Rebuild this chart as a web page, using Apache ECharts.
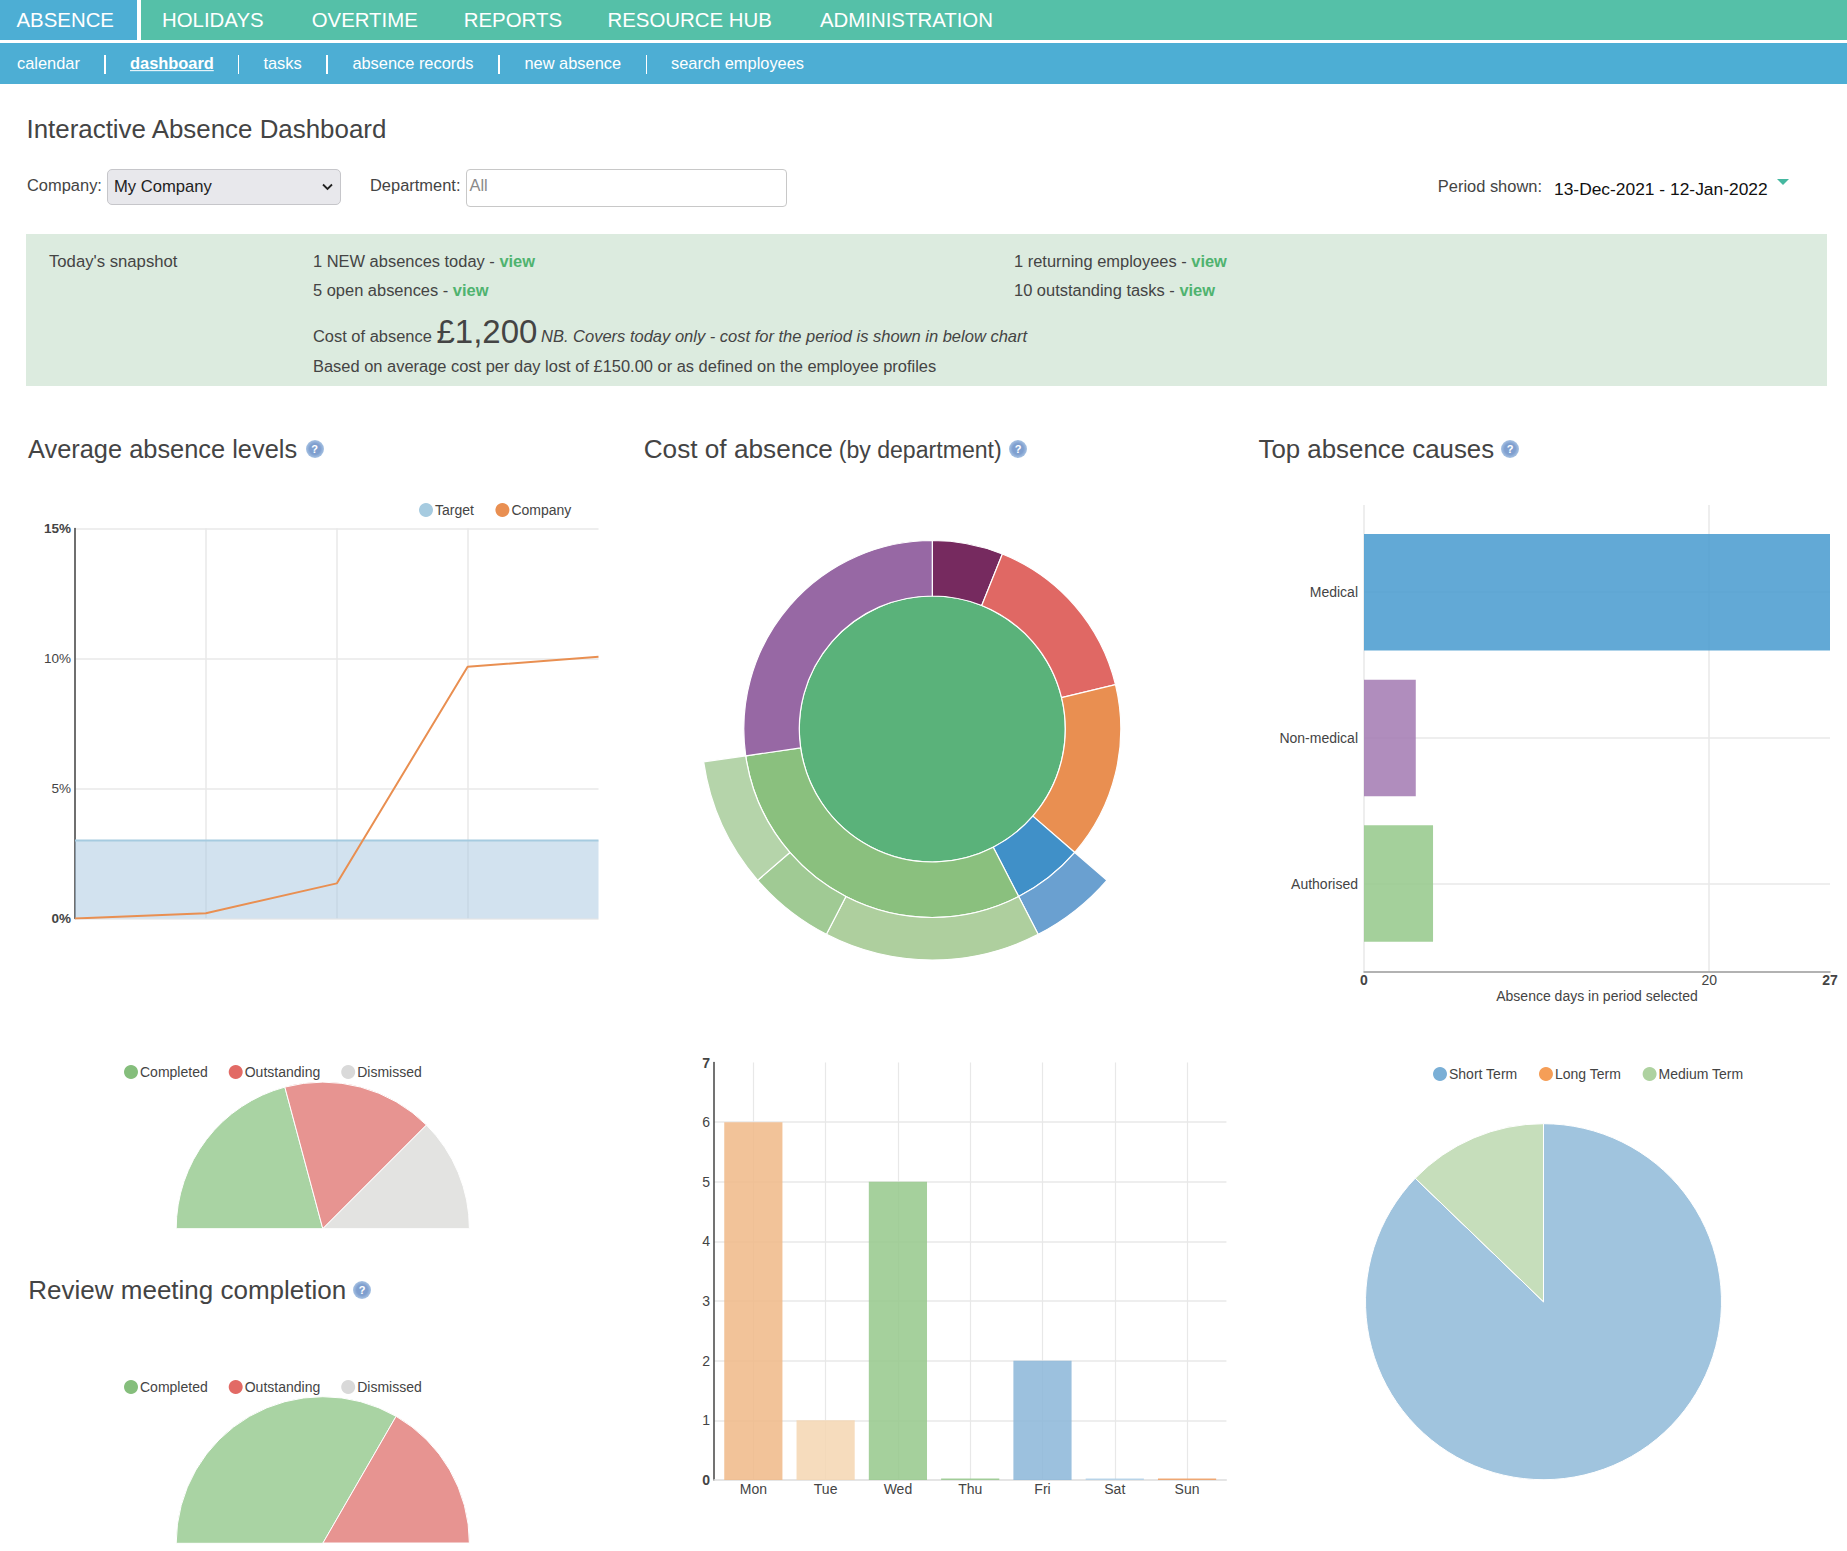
<!DOCTYPE html>
<html><head><meta charset="utf-8">
<script src="https://cdn.jsdelivr.net/npm/echarts@6/dist/echarts.min.js"></script>
<style>
html,body{margin:0;padding:0;background:#fff;width:1847px;height:1551px;overflow:hidden;font-family:"Liberation Sans",Arial,sans-serif;color:#444}
#chart{position:absolute;left:0;top:0;width:1847px;height:1551px}
.b{position:absolute}
.t{position:absolute;white-space:nowrap;transform:translateY(-50%);font-size:16.45px;line-height:1.2}
.nav{color:#fff;font-size:20.4px}
.sub{color:#fff;font-size:16.4px}
.sep{position:absolute;width:1.5px;height:19px;top:55px;background:#fff}
.v{color:#4fb36f;font-weight:bold}
.q{position:absolute;width:18px;height:18px;border-radius:50%;transform:translate(-50%,-50%);background:radial-gradient(circle,#7f9fcf 0%,#7f9fcf 42%,#a3bfe1 68%,#d9e6f5 100%);color:#fff;font:bold 11px/18px "Liberation Sans";text-align:center}
</style></head><body>
<div id="chart"></div>

<div class="b" style="left:0;top:0;width:1847px;height:40px;background:#55c0a8"></div>
<div class="b" style="left:0;top:0;width:137px;height:40px;background:#4daed4"></div>
<div class="b" style="left:137px;top:0;width:4px;height:40px;background:#fff"></div>
<div class="b" style="left:0;top:43px;width:1847px;height:41px;background:#4daed4"></div>
<span class="t nav" style="left:16.5px;top:20px">ABSENCE</span>
<span class="t nav" style="left:162px;top:20px">HOLIDAYS</span>
<span class="t nav" style="left:311.7px;top:20px">OVERTIME</span>
<span class="t nav" style="left:463.8px;top:20px">REPORTS</span>
<span class="t nav" style="left:607.5px;top:20px">RESOURCE HUB</span>
<span class="t nav" style="left:820px;top:20px">ADMINISTRATION</span>
<span class="t sub" style="left:17px;top:64px">calendar</span><i class="sep" style="left:104px"></i>
<span class="t sub" style="left:130px;top:64px;font-weight:bold;text-decoration:underline">dashboard</span><i class="sep" style="left:237.5px"></i>
<span class="t sub" style="left:263.4px;top:64px">tasks</span><i class="sep" style="left:326px"></i>
<span class="t sub" style="left:352.4px;top:64px">absence records</span><i class="sep" style="left:498px"></i>
<span class="t sub" style="left:524.5px;top:64px">new absence</span><i class="sep" style="left:645.5px"></i>
<span class="t sub" style="left:671px;top:64px">search employees</span>

<span class="t" style="left:26.5px;top:130px;font-size:25.9px">Interactive Absence Dashboard</span>
<span class="t" style="left:27px;top:186px">Company:</span>
<div class="b" style="left:107px;top:169px;width:232px;height:34px;background:#e8e8ec;border:1px solid #c6c6ca;border-radius:5px"></div>
<span class="t" style="left:114px;top:187px;color:#222;font-size:16.6px">My Company</span>
<svg class="b" style="left:322px;top:183px" width="11" height="8"><path d="M1 1.5 L5.5 6 L10 1.5" fill="none" stroke="#222" stroke-width="1.8"/></svg>
<span class="t" style="left:370px;top:186px">Department:</span>
<div class="b" style="left:466px;top:169px;width:319px;height:36px;background:#fff;border:1px solid #c8c8c8;border-radius:4px"></div>
<span class="t" style="left:469.5px;top:186px;color:#8a8a8a">All</span>
<span class="t" style="left:1437.8px;top:187px">Period shown:</span>
<span class="t" style="left:1554px;top:189px;color:#111;font-size:17.4px">13-Dec-2021 - 12-Jan-2022</span>
<svg class="b" style="left:1777px;top:179px" width="12" height="7"><path d="M0 0 L12 0 L6 6 Z" fill="#45b8a0"/></svg>

<div class="b" style="left:26px;top:234px;width:1800.5px;height:152px;background:#dcebdf"></div>
<span class="t" style="left:49px;top:262px;font-size:16.7px">Today's snapshot</span>
<span class="t" style="left:313px;top:262px">1 NEW absences today - <span class="v">view</span></span>
<span class="t" style="left:313px;top:290.5px">5 open absences - <span class="v">view</span></span>
<span class="t" style="left:1014px;top:262px">1 returning employees - <span class="v">view</span></span>
<span class="t" style="left:1014px;top:290.5px">10 outstanding tasks - <span class="v">view</span></span>
<span class="t" style="left:313px;top:337px">Cost of absence</span>
<span class="t" style="left:436.5px;top:332px;font-size:33px">£1,200</span>
<span class="t" style="left:541px;top:337px;font-style:italic;font-size:16.5px">NB. Covers today only - cost for the period is shown in below chart</span>
<span class="t" style="left:313px;top:366.5px">Based on average cost per day lost of £150.00 or as defined on the employee profiles</span>

<span class="t" style="left:28px;top:449px;font-size:25.4px">Average absence levels</span><span class="q" style="left:314.7px;top:449px">?</span>
<span class="t" style="left:643.7px;top:450px;font-size:26.2px">Cost of absence</span><span class="t" style="left:838.7px;top:450.5px;font-size:23.1px">(by department)</span><span class="q" style="left:1018px;top:449px">?</span>
<span class="t" style="left:1258.5px;top:449px;font-size:25.85px">Top absence causes</span><span class="q" style="left:1510px;top:449px">?</span>
<span class="t" style="left:28.3px;top:1291px;font-size:26px">Review meeting completion</span><span class="q" style="left:362px;top:1290px">?</span>

<script>
// ---- Average absence levels
const levelPeriods = ['P1', 'P2', 'P3', 'P4', 'P5'];
const targetLevel = [3, 3, 3, 3, 3];
const companyLevel = [0, 0.2, 1.35, 9.68, 10.07];
// ---- Cost of absence (by department)
const deptNames = ['Dept A', 'Dept B', 'Dept C', 'Dept D', 'Dept E', 'Dept F'];
const deptCost = [150, 375, 375, 150, 750, 675];
const deptDDivisions = ['D1'];
const deptDDivisionCost = [150];
const deptEDivisions = ['E1', 'E2', 'E3'];
const deptEDivisionCost = [375, 150, 225];
// ---- Top absence causes
const causeNames = ['Medical', 'Non-medical', 'Authorised'];
const causeDays = [27, 3, 4];
// ---- Trigger / review completion
const statusNames = ['Completed', 'Outstanding', 'Dismissed'];
const triggerCounts = [5, 4, 3];
const reviewCounts = [2, 1, 0];
// ---- Absences by weekday
const weekdays = ['Mon', 'Tue', 'Wed', 'Thu', 'Fri', 'Sat', 'Sun'];
const weekdayCounts = [6, 1, 5, 0, 2, 0, 0];
// ---- Term split
const termNames = ['Short Term', 'Long Term', 'Medium Term'];
const termCounts = [87.2, 0, 12.8];

// colours
const deptColors = ['#762a5f', '#e06864', '#e98f51', '#4090c8', '#8ac07e', '#9768a4'];
const deptDColors = ['#6aa0d0'];
const deptEColors = ['#aecf9e', '#a0ca94', '#b5d4aa'];
const causeColors = ['#469acf', '#a279b2', '#94c88a'];
const statusColors = ['#a9d3a3', '#e79491', '#e3e3e1'];
const statusDots = ['#85be7c', '#e26a65', '#d9d9d9'];
const weekdayColors = ['#f0b887', '#f4d6b1', '#95c88b', '#95c88b', '#8bb6d8', '#b0d0e8', '#ee9c60'];
const termColors = ['#a0c4de', '#f59e57', '#c6debb'];
const termDots = ['#7aafd6', '#f59e57', '#aed2a0'];

const FONT = '"Liberation Sans", Arial, sans-serif';
const TXT = '#444';
const GRID = '#e8e8e8';
const label = (size) => ({fontFamily: FONT, fontSize: size, color: TXT});
const boldRich = (size) => ({b: {fontFamily: FONT, fontSize: size, color: TXT, fontWeight: 'bold'}, n: {fontFamily: FONT, fontSize: size, color: TXT}});
const split = (w) => ({show: true, alignWithLabel: true, lineStyle: {color: GRID, width: w || 1.5}});

const children = (names, vals, cols) => names.map((n, i) => ({name: n, value: vals[i], itemStyle: {color: cols[i]}}));
const deptNodes = deptNames.map((n, i) => {
  const node = {name: n, value: deptCost[i], itemStyle: {color: deptColors[i]}};
  if (i === 3) node.children = children(deptDDivisions, deptDDivisionCost, deptDColors);
  if (i === 4) node.children = children(deptEDivisions, deptEDivisionCost, deptEColors);
  return node;
});

const halfPie = (vals, cy) => ({
  type: 'pie', center: [322.8, cy], radius: [0, 146.6], startAngle: 180, endAngle: 0, clockwise: true,
  label: {show: false}, labelLine: {show: false}, silent: true, animation: false,
  data: statusNames.map((n, i) => ({name: n, value: vals[i], itemStyle: {color: statusColors[i], borderColor: '#fff', borderWidth: 1}}))
});
const legend = (names, cols, left, top, gap) => ({
  left, top, padding: 0, orient: 'horizontal', icon: 'circle', itemWidth: 14, itemHeight: 14, itemGap: gap, selectedMode: false,
  textStyle: Object.assign(label(14), {padding: [0, 0, 0, -3]}), data: names.map((n, i) => ({name: n, itemStyle: {color: cols[i], opacity: 1, borderWidth: 0}}))
});
const hiddenValue = (idx, max) => ({gridIndex: idx, type: 'value', min: 0, max, show: false});

const chart = echarts.init(document.getElementById('chart'), null, {renderer: 'svg'});
chart.setOption({
  animation: false,
  legend: [
    legend(['Target', 'Company'], ['#a6cbe0', '#e98f51'], 419, 503, 21.5),
    legend(statusNames, statusDots, 124, 1065, 21),
    legend(statusNames, statusDots, 124, 1380, 21),
    legend(termNames, termDots, 1433, 1067, 21.5)
  ],
  grid: [
    {left: 75, top: 528.5, width: 523.5, height: 390},
    // causes: axis frame, then the inset band for the bars
    {left: 1364, top: 505, width: 466, height: 466.5},
    {left: 1364, top: 519.4, width: 466, height: 437},
    // weekdays: axis frame, then the inset band for the bars
    {left: 714, top: 1062.5, width: 512.4, height: 417.5},
    {left: 717.2, top: 1062.5, width: 506, height: 417.5}
  ],
  xAxis: [
    {gridIndex: 0, type: 'category', data: levelPeriods, boundaryGap: false, axisLine: {show: false}, axisTick: {show: false}, axisLabel: {show: false}, splitLine: {show: true, showMaxLine: false, lineStyle: {color: GRID, width: 1.5}}},
    {gridIndex: 1, type: 'value', min: 0, max: 27, interval: 20, axisLine: {show: true, lineStyle: {color: '#999', width: 1.5}}, axisTick: {show: false},
      axisLabel: {margin: 1, showMinLabel: true, showMaxLabel: true, formatter: (v) => v === 20 ? `{n|${v}}` : `{b|${v}}`, rich: boldRich(14)},
      splitLine: {show: true, showMaxLine: false, lineStyle: {color: GRID, width: 1.5}},
      name: 'Absence days in period selected', nameLocation: 'middle', nameGap: 17.5, nameTextStyle: label(14)},
    hiddenValue(2, 27),
    {gridIndex: 3, type: 'value', min: 0, max: 1, axisLine: {show: true, lineStyle: {color: '#e2e2e2', width: 1.5}}, axisTick: {show: false}, axisLabel: {show: false}, splitLine: {show: false}},
    {gridIndex: 4, type: 'category', data: weekdays, axisLine: {show: false}, axisTick: {show: false}, axisLabel: Object.assign(label(14), {margin: 1.5, interval: 0}), splitLine: split(1.2)}
  ],
  yAxis: [
    {gridIndex: 0, type: 'value', min: 0, max: 15, interval: 5, axisLine: {show: true, lineStyle: {color: '#444', width: 1.5}}, axisTick: {show: false},
      axisLabel: {margin: 4, formatter: (v) => (v === 0 || v === 15) ? `{b|${v}%}` : `{n|${v}%}`, rich: boldRich(13.5)},
      splitLine: {show: true, lineStyle: {color: GRID, width: 1.5}}},
    hiddenValue(1, 1),
    {gridIndex: 2, type: 'category', inverse: true, data: causeNames, axisLine: {show: false}, axisTick: {show: false}, axisLabel: Object.assign(label(14), {margin: 6}), splitLine: split(1.5)},
    {gridIndex: 3, type: 'value', min: 0, max: 7, interval: 1, axisLine: {show: true, lineStyle: {color: '#444', width: 1.5}}, axisTick: {show: false},
      axisLabel: {margin: 4, formatter: (v) => (v === 0 || v === 7) ? `{b|${v}}` : `{n|${v}}`, rich: boldRich(14)},
      splitLine: {show: true, showMaxLine: false, lineStyle: {color: GRID, width: 1.5}}},
    hiddenValue(4, 7)
  ],
  series: [
    {name: 'Target', type: 'line', xAxisIndex: 0, yAxisIndex: 0, data: targetLevel, symbol: 'none', lineStyle: {color: '#a6cbe0', width: 2}, itemStyle: {color: '#a6cbe0'}, areaStyle: {color: '#a5c6df', opacity: 0.5}},
    {name: 'Company', type: 'line', xAxisIndex: 0, yAxisIndex: 0, data: companyLevel, symbol: 'none', lineStyle: {color: '#e98f51', width: 2}, itemStyle: {color: '#e98f51'}},
    {type: 'sunburst', center: [932.3, 729], sort: null, startAngle: 90, silent: true, emphasis: {disabled: true}, label: {show: false},
      itemStyle: {borderColor: '#fff', borderWidth: 1.2},
      levels: [{}, {r0: 0, r: 133}, {r0: 133, r: 188.5}, {r0: 188.5, r: 231}],
      data: [{name: 'All departments', value: deptCost.reduce((a, b) => a + b, 0), itemStyle: {color: '#5ab27a'}, children: deptNodes}]},
    {type: 'bar', xAxisIndex: 2, yAxisIndex: 2, barWidth: '80%', data: causeDays.map((v, i) => ({value: v, itemStyle: {color: causeColors[i], opacity: 0.85}}))},
    halfPie(triggerCounts, 1228.7),
    {type: 'bar', xAxisIndex: 4, yAxisIndex: 4, barWidth: '80.5%', barMinHeight: 1.5, data: weekdayCounts.map((v, i) => ({value: v, itemStyle: {color: weekdayColors[i], opacity: 0.85}}))},
    {type: 'pie', center: [1543.5, 1301.7], radius: [0, 178], startAngle: 90, label: {show: false}, labelLine: {show: false}, silent: true,
      data: termNames.map((n, i) => ({name: n, value: termCounts[i], itemStyle: {color: termColors[i], borderColor: '#fff', borderWidth: 1}}))},
    halfPie(reviewCounts, 1543.3)
  ]
});
</script>
</body></html>
